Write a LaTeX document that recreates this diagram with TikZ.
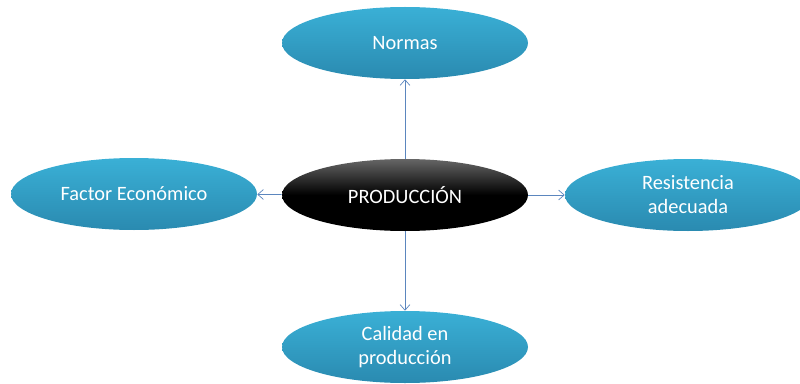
\documentclass[tikz,border=0pt]{standalone}
\usepackage{fontspec}
\setmainfont{Carlito}
\usepackage{tikz}
\usetikzlibrary{shapes,arrows}
\usetikzlibrary{positioning}
\usetikzlibrary{arrows.meta}

\definecolor{ideablue}{HTML}{3AB0D6}
\definecolor{ideadark}{HTML}{2A8AB0}
\definecolor{linkblue}{HTML}{5B86BE}

\tikzset{
	idea/.style={ellipse, minimum width=6.15cm, minimum height=1.8cm, inner sep=0pt,
		top color=ideablue, bottom color=ideadark, draw=none,
		text=white, align=center, font=\fontsize{14.5}{17}\selectfont},
	core/.style={idea, top color=black!60, bottom color=black, middle color=black},
	link/.style={draw=linkblue, line width=0.5pt, -{Straight Barb[length=4pt,width=7pt]}}
}

\begin{document}
\begin{tikzpicture}

	\useasboundingbox (0,0) rectangle (20,9.575);
	\clip (0,0) rectangle (20,9.575);

	\node[core] (prod) at (10.125,4.7) {PRODUCCIÓN};
	\node[idea] (normas) at (10.125,8.5) {Normas};
	\node[idea] (factor) at (3.35,4.725) {Factor Económico};
	\node[idea] (resist) at (17.2,4.7) {Resistencia\\adecuada};
	\node[idea] (calidad) at (10.125,0.9) {Calidad en\\producción};

	\draw[link] (prod) -- (normas);
	\draw[link] (prod) -- (factor);
	\draw[link] (prod) -- (resist);
	\draw[link] (prod) -- (calidad);

\end{tikzpicture}
\end{document}
